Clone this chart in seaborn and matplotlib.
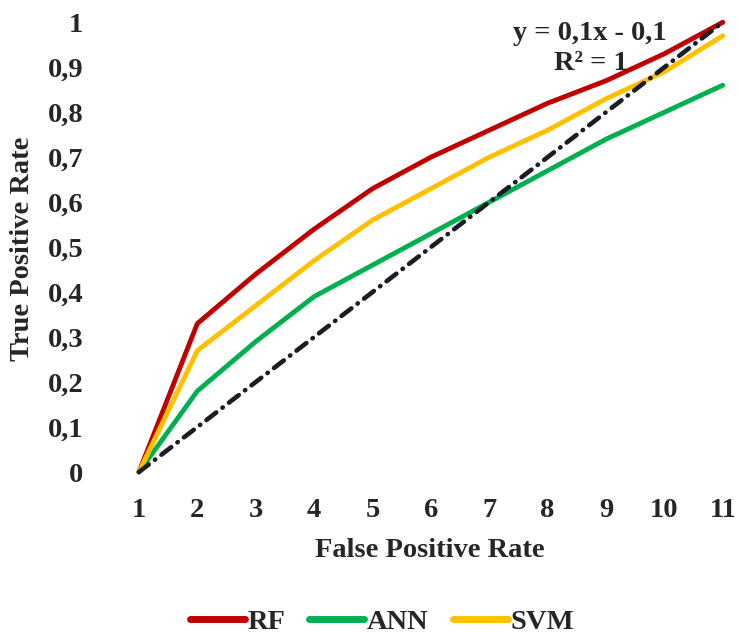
import numpy as np
import pandas as pd
import matplotlib
matplotlib.use("Agg")
import matplotlib.pyplot as plt
import seaborn as sns
from matplotlib.ticker import FuncFormatter

# values
fpr = [1, 2, 3, 4, 5, 6, 7, 8, 9, 10, 11]
rf = [0.0, 0.33, 0.44, 0.54, 0.63, 0.70, 0.76, 0.82, 0.87, 0.93, 1.0]
ann = [0.0, 0.18, 0.29, 0.39, 0.46, 0.53, 0.60, 0.67, 0.74, 0.80, 0.86]
svm = [0.0, 0.27, 0.37, 0.47, 0.56, 0.63, 0.70, 0.76, 0.83, 0.89, 0.97]
trend = [0.0, 0.1, 0.2, 0.3, 0.4, 0.5, 0.6, 0.7, 0.8, 0.9, 1.0]
models = ["RF", "ANN", "SVM"]
colors = ["#C00000", "#00B050", "#FFC000"]

df = pd.DataFrame({
    "fpr": fpr * 3,
    "tpr": rf + ann + svm,
    "model": ["RF"] * 11 + ["ANN"] * 11 + ["SVM"] * 11,
})

sns.set_theme(style="white")
plt.rcParams["font.family"] = ["Liberation Serif", "DejaVu Serif"]
plt.rcParams["font.weight"] = "bold"

fig = plt.figure(figsize=(7.39, 6.37), dpi=100)
ax = fig.add_axes([0.188, 0.259, 0.790, 0.706])

sns.lineplot(data=df, x="fpr", y="tpr", hue="model", hue_order=models,
             palette=colors, linewidth=3.5, ax=ax, clip_on=False)
ax.plot(fpr, trend, color="#1c1c26", linewidth=3.3, clip_on=False,
        dashes=(2.7, 1.7, 0.1, 1.7), dash_capstyle="round", label="_trend")

ax.set_xlim(1, 11)
ax.set_ylim(0, 1)
ax.set_xticks(fpr)
ax.set_yticks(trend)
ax.yaxis.set_major_formatter(FuncFormatter(lambda v, p: ("%g" % round(v, 1)).replace(".", ",")))
ax.tick_params(axis="x", labelsize=20.5, length=0, pad=19)
ax.tick_params(axis="y", labelsize=20.5, length=0, pad=40)
for lab in ax.get_xticklabels() + ax.get_yticklabels():
    lab.set_fontweight("bold")
for s in ax.spines.values():
    s.set_visible(False)
ax.grid(False)

ax.set_xlabel("False Positive Rate", fontsize=20.5, fontweight="bold")
ax.set_ylabel("True Positive Rate", fontsize=20.5, fontweight="bold")
ax.xaxis.set_label_coords(0.498, -0.147)
ax.yaxis.set_label_coords(-0.178, 0.496)

ax.text(0.772, 0.976, "y = 0,1x - 0,1", transform=ax.transAxes, ha="center",
        va="center", fontsize=20.5, fontweight="bold")
ax.text(0.774, 0.909, "R² = 1", transform=ax.transAxes, ha="center",
        va="center", fontsize=20.5, fontweight="bold")

leg = ax.legend(loc="center", bbox_to_anchor=(0.416, -0.333), ncol=3, frameon=False,
                fontsize=20.5, handlelength=1.93, handletextpad=0.1, columnspacing=0.84)
for t in leg.get_texts():
    t.set_fontweight("bold")
for h in leg.get_lines():
    h.set_linewidth(5)
    h.set_solid_capstyle("round")

fig.savefig("out.png", dpi=100)
